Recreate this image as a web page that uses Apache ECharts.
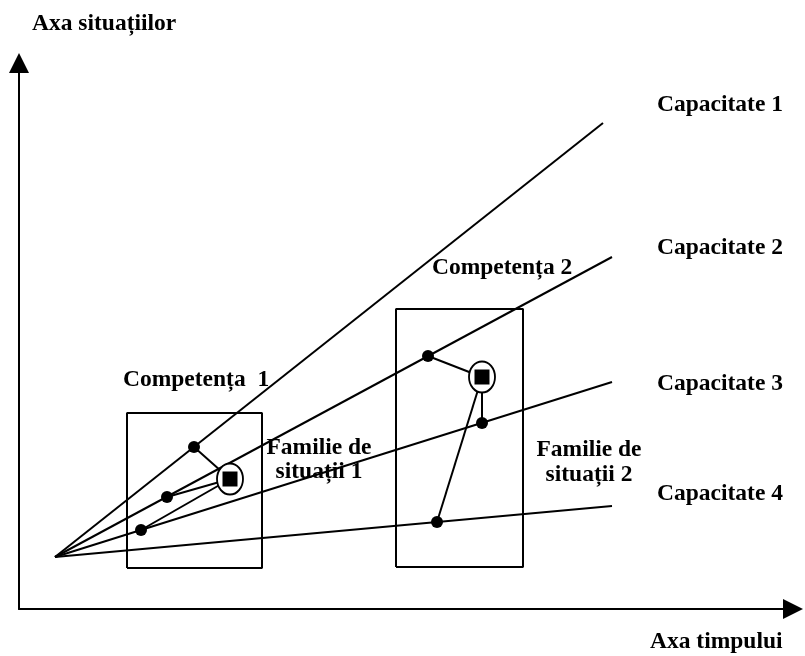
<!DOCTYPE html>
<html>
<head>
<meta charset="utf-8">
<script src="https://cdn.jsdelivr.net/npm/echarts@6/dist/echarts.min.js"></script>
<style>
  html, body { margin: 0; padding: 0; background: #fff; }
  #chart { width: 805px; height: 656px; }
</style>
</head>
<body>
<div id="chart"></div>
<script>
// plot units: x = time, y = situations (origin at the axes corner)
const fanOrigin = [36, 52]
const capacityNames = ['Capacitate 1', 'Capacitate 2', 'Capacitate 3', 'Capacitate 4']
const capacityEnds = [[584, 486], [593, 352], [593, 227], [593, 103]]

const familyBoxes = [
  [108, 41, 243, 196],
  [377, 42, 504, 300]
]
const competenceCenters = [[211, 130], [463, 232]]
const competenceDots = [
  [[175, 162], [148, 112], [122, 79]],
  [[409, 253], [463, 186], [418, 87]]
]

const FONT = 'Liberation Serif'
const chart = echarts.init(document.getElementById('chart'))

const textEl = (text, x, y, extra = {}) => ({
  type: 'text',
  x,
  y,
  style: {
    text,
    fill: '#000',
    font: `bold 23.5px "${FONT}"`,
    verticalAlign: 'middle',
    ...extra
  }
})

const boxPath = ([x0, y0, x1, y1]) => [[x0, y0], [x1, y0], [x1, y1], [x0, y1], [x0, y0]]

const lineSeries = (data, width) => ({
  type: 'line',
  data,
  symbol: 'none',
  silent: true,
  lineStyle: { color: '#000', width },
  z: 2
})

const series = [
  ...capacityEnds.map((end) => lineSeries([fanOrigin, end], 2)),
  ...familyBoxes.map((box) => lineSeries(boxPath(box), 2)),
  ...competenceDots.flatMap((dots, i) =>
    dots.map((dot) => lineSeries([dot, competenceCenters[i]], 2))
  ),
  {
    type: 'scatter',
    data: competenceDots.flat(),
    symbol: 'circle',
    symbolSize: 12,
    itemStyle: { color: '#000', opacity: 1 },
    z: 3
  },
  {
    type: 'scatter',
    data: competenceCenters,
    symbol: 'circle',
    symbolSize: [26, 31],
    itemStyle: { color: '#fff', borderColor: '#000', borderWidth: 2, opacity: 1 },
    z: 4
  },
  {
    type: 'scatter',
    data: competenceCenters,
    symbol: 'rect',
    symbolSize: 15,
    itemStyle: { color: '#000', opacity: 1 },
    z: 5
  }
]

const axisCommon = {
  type: 'value',
  axisLine: {
    show: true,
    onZero: false,
    symbol: ['none', 'triangle'],
    symbolSize: [20, 20],
    lineStyle: { color: '#000', width: 2 }
  },
  axisTick: { show: false },
  axisLabel: { show: false },
  splitLine: { show: false }
}

chart.setOption({
  animation: false,
  backgroundColor: '#fff',
  grid: { left: 19, right: 12, top: 63, bottom: 47 },
  xAxis: { ...axisCommon, min: 0, max: 774 },
  yAxis: { ...axisCommon, min: 0, max: 546 },
  series,
  graphic: [
    textEl('Axa situațiilor', 32, 24),
    textEl('Axa timpului', 650, 642),
    ...capacityNames.map((name, i) => textEl(name, 657, [105, 248, 384, 494][i])),
    textEl('Competența  1', 123, 380),
    textEl('Competența 2', 432, 268),
    textEl('Familie de', 319, 448, { align: 'center' }),
    textEl('situații 1', 319, 472, { align: 'center' }),
    textEl('Familie de', 589, 450, { align: 'center' }),
    textEl('situații 2', 589, 475, { align: 'center' })
  ]
})
</script>
</body>
</html>
